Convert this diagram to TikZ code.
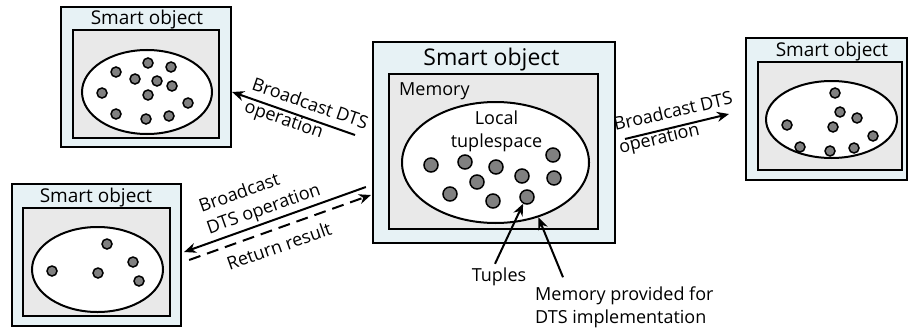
\documentclass[tikz,border=0pt]{standalone}
\usepackage{fontspec}
\setmainfont{Open Sans}
\usepackage{xcolor}
\usepackage{tikz}
\usetikzlibrary{arrows.meta,positioning,shapes.geometric}

\definecolor{objblue}{RGB}{231,242,245}
\definecolor{memgray}{RGB}{233,233,233}
\definecolor{tupgray}{RGB}{128,128,128}

\begin{document}
\begin{tikzpicture}[x=1pt, y=-1pt, font=\fontsize{18}{23}\selectfont,
    objbox/.style={draw, line width=2.2pt, fill=objblue, inner sep=0pt},
    membox/.style={draw, line width=2.2pt, fill=memgray, inner sep=0pt},
    tspace/.style={ellipse, draw, line width=2pt, fill=white, inner sep=0pt},
    tup/.style={circle, draw, line width=1.5pt, fill=tupgray, minimum size=10pt, inner sep=0pt},
    bigtup/.style={tup, minimum size=14pt},
    lbl/.style={inner sep=0pt, align=left},
    conn/.style={-{Stealth[length=12pt,width=10pt]}, line width=2pt}]
  \useasboundingbox (0,0) rectangle (909,329);

  % top-left object
  \node[objbox, minimum width=170pt, minimum height=140pt] (tl) at (146,77) {};
  \node[membox, minimum width=146pt, minimum height=108pt] (tlm) at (146,84) {};
  \node[tspace, minimum width=130pt, minimum height=84pt] (tlt) at (147,92) {};
  \node[lbl, font=\fontsize{19}{22}\selectfont] (tlh) at (147,20) {Smart object};
  \foreach \x/\y [count=\i] in {116/72, 148/63, 171/67, 135/79, 157/81, 172/86,
      102/93, 148/95, 188/103, 116/114, 146/119, 169/116}
    \node[tup] (tl\i) at (\x,\y) {};

  % bottom-left object
  \node[objbox, minimum width=169pt, minimum height=142pt] (bl) at (96.5,255) {};
  \node[membox, minimum width=147pt, minimum height=108pt] (blm) at (96.5,262) {};
  \node[tspace, minimum width=131pt, minimum height=85pt] (blt) at (97.5,269.5) {};
  \node[lbl, font=\fontsize{19}{22}\selectfont] (blh) at (96,198) {Smart object};
  \foreach \x/\y [count=\i] in {107/244, 133/262, 52/271, 98/273, 139/281}
    \node[tup] (bl\i) at (\x,\y) {};

  % right object
  \node[objbox, minimum width=161pt, minimum height=142pt] (rt) at (826.5,109) {};
  \node[membox, minimum width=144pt, minimum height=108pt] (rtm) at (830,116) {};
  \node[tspace, minimum width=131pt, minimum height=77pt] (rtt) at (831.5,119.5) {};
  \node[lbl, font=\fontsize{19}{22}\selectfont] (rth) at (832,52) {Smart object};
  \foreach \x/\y [count=\i] in {835/93, 840/112, 857/118, 787/125, 833/127,
      873/136, 800/147, 830/151, 854/148}
    \node[tup] (rt\i) at (\x,\y) {};

  % central smart object with its local tuplespace
  \node[objbox, minimum width=242pt, minimum height=201pt] (so) at (494,142.5) {};
  \node[membox, minimum width=209pt, minimum height=155pt] (mem) at (493.5,151.5) {};
  \node[tspace, minimum width=187pt, minimum height=121pt] (lts) at (495.5,162.5) {};
  \node[lbl, font=\fontsize{23}{26}\selectfont] (soh) at (491.5,60) {Smart object};
  \node[lbl, anchor=west] (memh) at (399,91) {Memory};
  \node[lbl, align=center] (ltsh) at (496.5,131) {Local\\tuplespace};
  \foreach \x/\y [count=\i] in {431/165, 465/162, 496/167, 477/182, 522/176,
      553/155, 554/178, 450/194, 493/201, 527/197}
    \node[bigtup] (lt\i) at (\x,\y) {};

  % broadcasts
  \coordinate (tlsrc) at (355,135);
  \draw[conn] (tlsrc) -- ([yshift=-15pt]tl.east);
  \node[lbl, rotate=-19] (tlop) at (306,116) {Broadcast DTS\\operation};

  \coordinate (rtsrc) at (625,139);
  \coordinate (rttip) at (729,114);
  \draw[conn] (rtsrc) -- (rttip);
  \node[lbl, rotate=13] (rtop) at (676,124) {Broadcast DTS\\operation};

  \draw[conn] ([xshift=-6pt,yshift=-44.5pt]so.west) -- ([xshift=2pt,yshift=3pt]bl.east);
  \draw[conn, dash pattern=on 12pt off 7pt] ([xshift=7pt,yshift=-5pt]bl.east)
    -- ([xshift=-1pt,yshift=-52.5pt]so.west);
  \node[lbl, rotate=19.5] (blop) at (260,199) {Broadcast\\DTS operation};
  \node[lbl, rotate=19.5] (blres) at (279,246) {Return result};

  % callouts
  \node[lbl] (tupl) at (499,277) {Tuples};
  \node[lbl, anchor=west] (mpf) at (535,307) {Memory provided for\\DTS implementation};
  \draw[conn] ([xshift=-4pt,yshift=4pt]tupl.north) -- (lt10.240);
  \draw[conn] ([xshift=28pt,yshift=9pt]mpf.north west) -- (lts.-52);
\end{tikzpicture}
\end{document}
